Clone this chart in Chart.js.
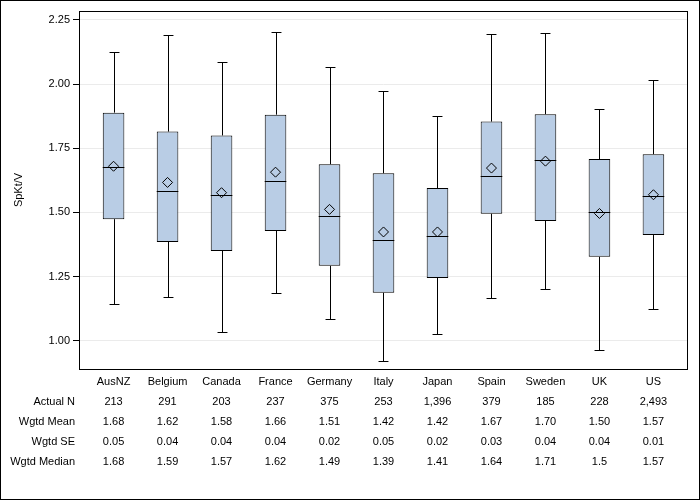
<!DOCTYPE html>
<html><head><meta charset="utf-8">
<script src="https://cdn.jsdelivr.net/npm/chart.js@4/dist/chart.umd.min.js"></script>
<style>html,body{margin:0;padding:0;background:#fff}canvas{display:block}</style>
</head><body>
<canvas id="c" width="700" height="500"></canvas>
<script>
const categories = ['AusNZ','Belgium','Canada','France','Germany','Italy','Japan','Spain','Sweden','UK','US'];
const lowWhisker  = [1.144, 1.171, 1.035, 1.187, 1.085, 0.922, 1.027, 1.167, 1.202, 0.965, 1.124];
const q1          = [1.474, 1.385, 1.350, 1.428, 1.292, 1.187, 1.245, 1.495, 1.467, 1.327, 1.412];
const medians     = [1.677, 1.583, 1.568, 1.622, 1.486, 1.393, 1.408, 1.643, 1.704, 1.500, 1.564];
const q3          = [1.889, 1.815, 1.800, 1.881, 1.688, 1.653, 1.595, 1.854, 1.883, 1.708, 1.727];
const highWhisker = [2.127, 2.190, 2.085, 2.204, 2.068, 1.972, 1.874, 2.194, 2.198, 1.904, 2.018];
const means       = [1.680, 1.617, 1.577, 1.657, 1.512, 1.424, 1.424, 1.673, 1.700, 1.496, 1.569];

const rowLabels   = ['Actual N','Wgtd Mean','Wgtd SE','Wgtd Median'];
const actualN     = ['213','291','203','237','375','253','1,396','379','185','228','2,493'];
const wgtdMean    = ['1.68','1.62','1.58','1.66','1.51','1.42','1.42','1.67','1.70','1.50','1.57'];
const wgtdSE      = ['0.05','0.04','0.04','0.04','0.02','0.05','0.02','0.03','0.04','0.04','0.01'];
const wgtdMedian  = ['1.68','1.59','1.57','1.62','1.49','1.39','1.41','1.64','1.71','1.5','1.57'];
const yTicks      = [1.00, 1.25, 1.50, 1.75, 2.00, 2.25];
const yTitle      = 'SpKt/V';

const FONT = '11px "Liberation Sans", Arial, sans-serif';

const boxPlugin = {
  id: 'boxParts',
  afterDatasetDraw(chart, args) {
    if (args.meta.type !== 'bar') return;
    const ctx = chart.ctx, xs = chart.scales.x, ys = chart.scales.y;
    ctx.save();
    ctx.strokeStyle = '#000';
    ctx.lineWidth = 1;
    args.meta.data.forEach((bar, i) => {
      const x = Math.round(xs.getPixelForValue(i)) + 0.5;
      const half = bar.width / 2;
      const capHalf = bar.width * 0.23;
      const yHi = Math.round(ys.getPixelForValue(highWhisker[i])) + 0.5;
      const yQ3 = ys.getPixelForValue(q3[i]);
      const yQ1 = ys.getPixelForValue(q1[i]);
      const yLo = Math.round(ys.getPixelForValue(lowWhisker[i])) + 0.5;
      const yMed = Math.round(ys.getPixelForValue(medians[i])) + 0.5;
      ctx.beginPath();
      ctx.moveTo(x, yHi); ctx.lineTo(x, yQ3);
      ctx.moveTo(x, yQ1); ctx.lineTo(x, yLo);
      ctx.moveTo(x - capHalf, yHi); ctx.lineTo(x + capHalf, yHi);
      ctx.moveTo(x - capHalf, yLo); ctx.lineTo(x + capHalf, yLo);
      ctx.moveTo(bar.x - half, yMed); ctx.lineTo(bar.x + half, yMed);
      ctx.stroke();
    });
    ctx.restore();
  }
};

const framePlugin = {
  id: 'frameTable',
  afterDraw(chart) {
    const ctx = chart.ctx, a = chart.chartArea, xs = chart.scales.x;
    ctx.save();
    ctx.strokeStyle = '#000';
    ctx.lineWidth = 1;
    ctx.strokeRect(Math.round(a.left) + 0.5, Math.round(a.top) + 0.5,
                   Math.round(a.right - a.left) - 1, Math.round(a.bottom - a.top));
    ctx.strokeRect(0.5, 0.5, chart.width - 1, chart.height - 1);
    ctx.fillStyle = '#000';
    ctx.font = FONT;
    ctx.textBaseline = 'middle';
    const rows = [actualN, wgtdMean, wgtdSE, wgtdMedian];
    const y0 = a.bottom + 13, dy = 20;
    ctx.textAlign = 'center';
    categories.forEach((c, i) => ctx.fillText(c, xs.getPixelForValue(i), y0));
    rows.forEach((r, k) => {
      const y = y0 + dy * (k + 1);
      ctx.textAlign = 'right';
      ctx.fillText(rowLabels[k], a.left - 4, y);
      ctx.textAlign = 'center';
      r.forEach((v, i) => ctx.fillText(v, xs.getPixelForValue(i), y));
    });
    ctx.restore();
  }
};

new Chart(document.getElementById('c'), {
  type: 'bar',
  data: {
    datasets: [
      {
        type: 'line',
        label: 'Mean',
        data: categories.map((c, i) => ({x: i, y: means[i]})),
        showLine: false,
        pointStyle: 'rectRot',
        pointRadius: 5,
        pointBorderColor: '#000',
        pointBackgroundColor: 'rgba(0,0,0,0)',
        pointBorderWidth: 1,
        order: 0
      },
      {
        type: 'bar',
        label: 'Box',
        data: categories.map((c, i) => ({x: i, y: [q1[i], q3[i]]})),
        backgroundColor: '#b9cde5',
        borderColor: '#000',
        borderWidth: 1,
        borderSkipped: false,
        barPercentage: 0.4,
        categoryPercentage: 1.0,
        order: 1
      }
    ]
  },
  options: {
    responsive: false,
    animation: false,
    devicePixelRatio: 1,
    layout: {padding: {top: 11, right: 12, bottom: 131, left: 0}},
    plugins: {legend: {display: false}, tooltip: {enabled: false}},
    scales: {
      x: {
        type: 'linear',
        min: -0.64,
        max: 10.64,
        display: false,
        offset: false
      },
      y: {
        min: 0.89,
        max: 2.285,
        afterFit(scale) { scale.width = 79; },
        afterBuildTicks(scale) { scale.ticks = yTicks.map(v => ({value: v})); },
        border: {display: false},
        grid: {color: '#ebebeb', tickColor: '#000', tickLength: 6, drawTicks: true},
        ticks: {
          autoSkip: false,
          padding: 3,
          color: '#000',
          font: {family: '"Liberation Sans", Arial, sans-serif', size: 11},
          callback: v => Number(v).toFixed(2)
        },
        title: {
          display: true,
          text: yTitle,
          color: '#000',
          font: {family: '"Liberation Sans", Arial, sans-serif', size: 11},
          padding: {top: 12, bottom: 0}
        }
      }
    }
  },
  plugins: [boxPlugin, framePlugin]
});
</script>
</body></html>
